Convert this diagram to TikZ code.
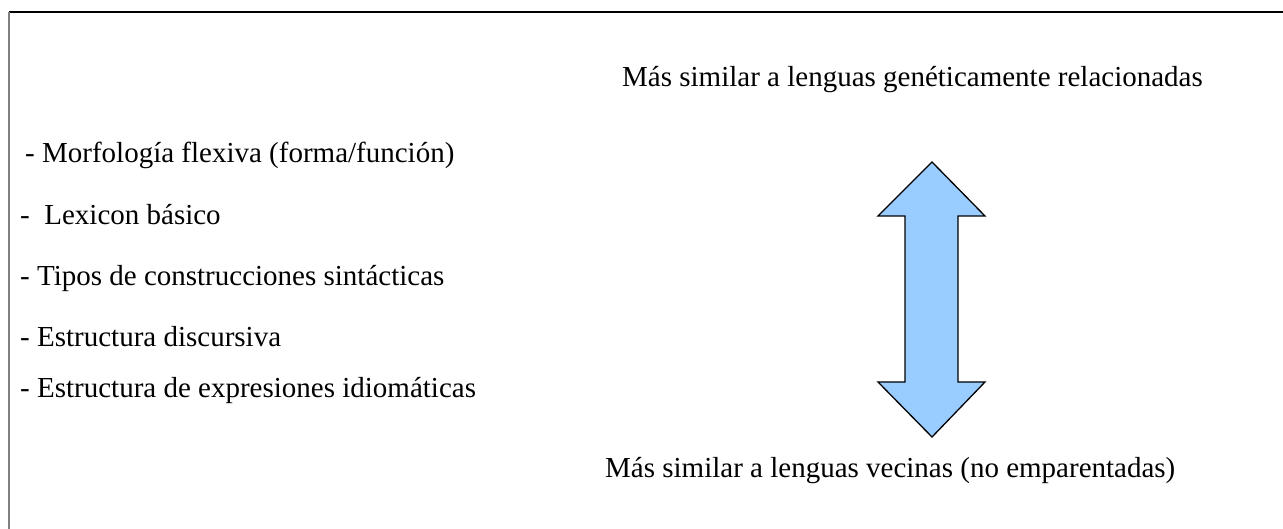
\documentclass[tikz,border=0pt]{standalone}
\usepackage{fontspec}
\setmainfont{Liberation Serif}
\begin{document}
\begin{tikzpicture}[x=1pt,y=-1pt,
  txt/.style={anchor=base west,inner sep=0pt,font=\fontsize{29}{34}\selectfont},
  arrowfill/.style={fill={rgb,255:red,153;green,204;blue,255},draw=black,line width=1.3pt,line join=miter}]
\useasboundingbox (0,0) rectangle (1283,529);
\draw[black,line width=1.3pt] (9,12) -- (1284,12);
\draw[gray,line width=1.5pt] (9,12) -- (9,530);
\node[txt] (top) at (622,87) {Más similar a lenguas genéticamente relacionadas};
\node[txt] (bot) at (605,477) {Más similar a lenguas vecinas (no emparentadas)};
\node[txt] (l1) at (25,163) {- Morfología flexiva (forma/función)};
\node[txt] (l2) at (20,225) {-\ \ Lexicon básico};
\node[txt] (l3) at (20,286) {- Tipos de construcciones sintácticas};
\node[txt] (l4) at (20,347) {- Estructura discursiva};
\node[txt] (l5) at (20,398) {- Estructura de expresiones idiomáticas};
\draw[arrowfill] (932,162) -- (985,216) -- (958,216) -- (958,382) -- (985,382)
  -- (932,437) -- (878,382) -- (905,382) -- (905,216) -- (878,216) -- cycle;
\end{tikzpicture}
\end{document}
